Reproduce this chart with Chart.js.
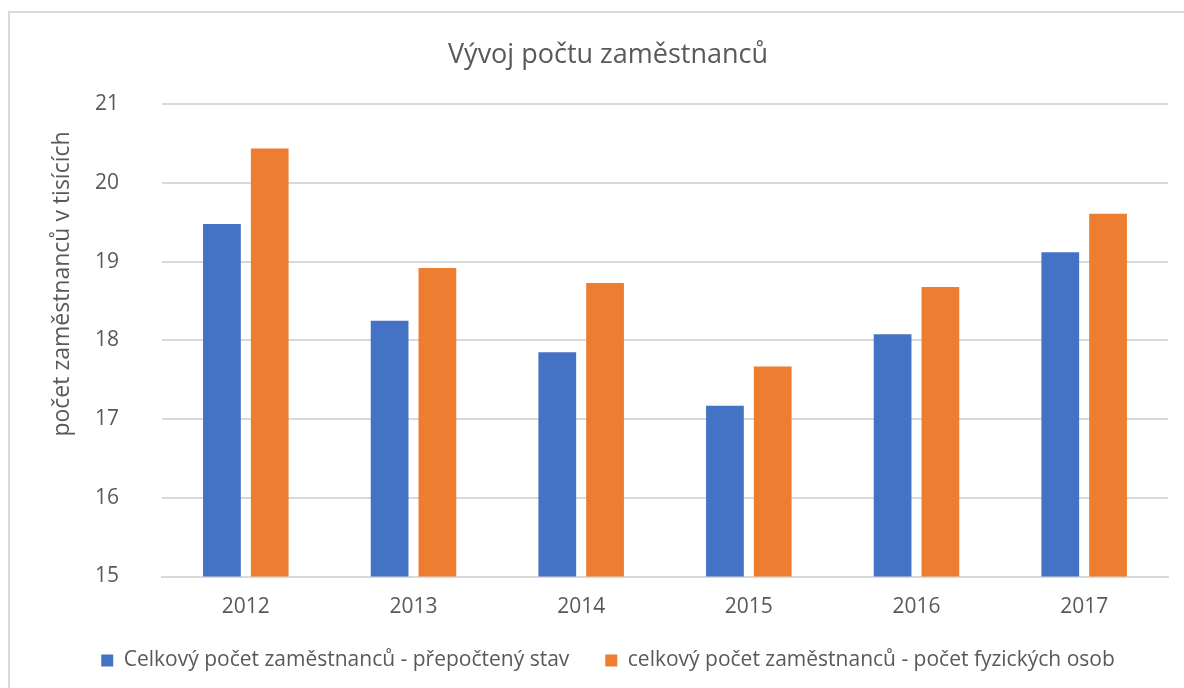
<!DOCTYPE html>
<html>
<head>
<meta charset="utf-8">
<script src="https://cdn.jsdelivr.net/npm/chart.js@4"></script>
<style>
  html, body { margin: 0; padding: 0; background: #fff; }
  #wrap { position: relative; width: 1184px; height: 688px; }
  #frame { position: absolute; left: 8px; top: 11px; width: 1200px; height: 700px; border: 2px solid #d9d9d9; box-sizing: border-box; }
  canvas { position: absolute; left: 0; top: 0; }
</style>
</head>
<body>
<div id="wrap">
  <div id="frame"></div>
  <canvas id="barChart" width="1184" height="688"></canvas>
</div>
<script>
// roky a hodnoty v tisících
var years = ['2012', '2013', '2014', '2015', '2016', '2017'];
var prepocteny = [19.48, 18.25, 17.85, 17.17, 18.08, 19.12];
var fyzicke = [20.44, 18.92, 18.73, 17.67, 18.68, 19.61];

var chartTitle = 'Vývoj počtu zaměstnanců';
var yTitle = 'počet zaměstnanců v tisících';
var seriesNames = ['Celkový počet zaměstnanců - přepočtený stav', 'celkový počet zaměstnanců - počet fyzických osob'];

var textColor = '#595959';
var fontFamily = '"Open Sans", Lato, sans-serif';

// vlastní popisek osy Y (v Excelu není vycentrovaný na osu)
var yTitlePlugin = {
    id: 'yTitle',
    afterDraw: function(chart) {
        var ctx = chart.ctx;
        ctx.save();
        ctx.translate(62, 284);
        ctx.rotate(-Math.PI / 2);
        ctx.fillStyle = textColor;
        ctx.font = '23px ' + fontFamily;
        ctx.textAlign = 'center';
        ctx.textBaseline = 'middle';
        ctx.fillText(yTitle, 0, 0);
        ctx.restore();
    }
};

var ctxBar = document.getElementById('barChart').getContext('2d');
var barChart = new Chart(ctxBar, {
    type: 'bar',
    data: {
        labels: years,
        datasets: [
            {
                label: seriesNames[0],
                data: prepocteny,
                backgroundColor: '#4472C4',
                barPercentage: 0.79,
                categoryPercentage: 0.57
            },
            {
                label: seriesNames[1],
                data: fyzicke,
                backgroundColor: '#ED7D31',
                barPercentage: 0.79,
                categoryPercentage: 0.57
            }
        ]
    },
    options: {
        responsive: false,
        animation: false,
        layout: {
            padding: { left: 48, right: 16, top: 20, bottom: 7 }
        },
        plugins: {
            title: {
                display: true,
                text: chartTitle,
                color: textColor,
                font: { family: fontFamily, size: 27, weight: 'normal' },
                padding: { top: 19, bottom: 33 }
            },
            legend: {
                position: 'bottom',
                labels: {
                    color: textColor,
                    font: { family: fontFamily, size: 21 },
                    boxWidth: 12,
                    boxHeight: 12,
                    padding: 36
                }
            },
            tooltip: { enabled: false }
        },
        scales: {
            x: {
                grid: { display: false, drawTicks: false },
                border: { color: '#d9d9d9', width: 2 },
                ticks: {
                    color: textColor,
                    font: { family: fontFamily, size: 21 },
                    padding: 18
                },
                afterFit: function(scale) {
                    scale.height = 37.5;
                }
            },
            y: {
                min: 15,
                max: 21,
                grid: { color: '#d9d9d9', lineWidth: 2, drawTicks: false },
                border: { display: false },
                ticks: {
                    stepSize: 1,
                    color: textColor,
                    font: { family: fontFamily, size: 21 },
                    padding: 43
                },
                afterFit: function(scale) {
                    scale.width = 114;
                }
            }
        }
    },
    plugins: [yTitlePlugin]
});
</script>
</body>
</html>
